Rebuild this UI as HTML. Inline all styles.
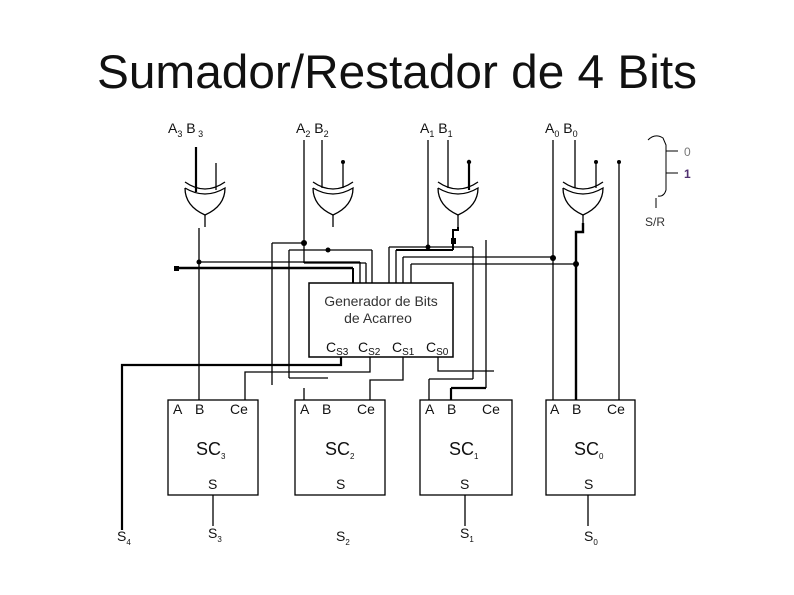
<!DOCTYPE html>
<html><head><style>
html,body{margin:0;padding:0;background:#fff;}
svg{display:block;}
text{font-family:"Liberation Sans",sans-serif;fill:#111;}
</style></head><body>
<svg width="794" height="595" viewBox="0 0 794 595" xmlns="http://www.w3.org/2000/svg">
<text x="397" y="88" font-size="47" text-anchor="middle" textLength="600" lengthAdjust="spacingAndGlyphs">Sumador/Restador de 4 Bits</text>

<g stroke="#000" fill="none" stroke-width="1.3">
<g id="g1">
<path d="M185 182 Q205 196 225 182"/>
<path d="M185 188 Q185 206 205 215 Q225 206 225 188 Q205 200 185 188"/>
</g>
<use href="#g1" x="128"/>
<use href="#g1" x="253"/>
<use href="#g1" x="378"/>

<line x1="196" y1="147" x2="196" y2="192" stroke-width="2.2"/>
<line x1="216" y1="163" x2="216" y2="190"/>
<line x1="205" y1="215" x2="205" y2="227"/>
<line x1="199" y1="228" x2="199" y2="400"/>
<line x1="199" y1="262" x2="360" y2="262"/>
<line x1="360" y1="262" x2="360" y2="283"/>
<line x1="176" y1="268" x2="353" y2="268" stroke-width="2.4"/>
<line x1="353" y1="268" x2="353" y2="283" stroke-width="2"/>

<line x1="304" y1="140" x2="304" y2="263"/>
<line x1="322" y1="140" x2="322" y2="188"/>
<line x1="343" y1="162" x2="343" y2="188"/>
<line x1="333" y1="215" x2="333" y2="227"/>
<line x1="272" y1="243" x2="304" y2="243"/>
<line x1="272" y1="243" x2="272" y2="385"/>
<line x1="304" y1="263" x2="366" y2="263"/>
<line x1="366" y1="263" x2="366" y2="283"/>
<line x1="289" y1="250" x2="372" y2="250"/>
<line x1="372" y1="250" x2="372" y2="283"/>
<line x1="289" y1="250" x2="289" y2="378"/>
<line x1="289" y1="378" x2="328" y2="378"/>
<line x1="304" y1="388" x2="304" y2="400"/>

<line x1="428" y1="140" x2="428" y2="247"/>
<line x1="448" y1="140" x2="448" y2="188"/>
<line x1="469" y1="162" x2="469" y2="190" stroke-width="2.2"/>
<line x1="458" y1="215" x2="458" y2="227"/>
<path d="M458 227 V230 H453 V250" stroke-width="2"/>
<line x1="389" y1="247" x2="473" y2="247"/>
<line x1="389" y1="247" x2="389" y2="283"/>
<line x1="396" y1="250" x2="453" y2="250" stroke-width="2"/>
<line x1="396" y1="250" x2="396" y2="283"/>
<line x1="403" y1="257" x2="553" y2="257"/>
<line x1="403" y1="257" x2="403" y2="283"/>
<line x1="411" y1="264" x2="576" y2="264"/>
<line x1="411" y1="264" x2="411" y2="283"/>
<line x1="473" y1="247" x2="473" y2="379"/>
<line x1="429" y1="379" x2="473" y2="379"/>
<line x1="429" y1="379" x2="429" y2="400"/>
<line x1="486" y1="240" x2="486" y2="388"/>
<line x1="451" y1="388" x2="486" y2="388" stroke-width="2.2"/>
<line x1="451" y1="388" x2="451" y2="400" stroke-width="2.2"/>

<line x1="553" y1="140" x2="553" y2="400"/>
<line x1="575" y1="140" x2="575" y2="188"/>
<line x1="596" y1="162" x2="596" y2="188"/>
<line x1="583" y1="215" x2="583" y2="227"/>
<path d="M583 223 V232 H576 V400" stroke-width="2.4"/>
<line x1="619" y1="162" x2="619" y2="400"/>

<path d="M648 140 Q655 133 663 138 L666 145 V190 Q664 197 658 196" stroke-width="1"/>
<line x1="666" y1="151" x2="678" y2="151" stroke-width="1"/>
<line x1="666" y1="173" x2="678" y2="173" stroke-width="1"/>
<line x1="656" y1="198" x2="656" y2="208" stroke-width="1"/>

<rect x="309" y="283" width="144" height="74" stroke-width="1.5"/>
<path d="M341 357 V365 H122 V530" stroke-width="2.2"/>
<path d="M370 357 V372 H245 V400"/>
<path d="M403 357 V380 H370 V400"/>
<path d="M438 357 V371 H494"/>

<rect x="168" y="400" width="90" height="95"/>
<rect x="295" y="400" width="90" height="95"/>
<rect x="420" y="400" width="92" height="95"/>
<rect x="546" y="400" width="89" height="95"/>
<line x1="213" y1="495" x2="213" y2="526"/>
<line x1="465" y1="495" x2="465" y2="526"/>
<line x1="588" y1="495" x2="588" y2="526"/>
</g>

<g fill="#000">
<circle cx="199" cy="262" r="2.5"/><rect x="174" y="266" width="5" height="5"/>
<circle cx="304" cy="243" r="3"/><circle cx="328" cy="250" r="2.5"/>
<circle cx="428" cy="247" r="2.5"/><rect x="451" y="238" width="5" height="6"/>
<circle cx="553" cy="258" r="3"/><circle cx="576" cy="264" r="3"/>
<circle cx="343" cy="162" r="2"/><circle cx="469" cy="162" r="2.2"/>
<circle cx="596" cy="162" r="2"/><circle cx="619" cy="162" r="2"/>
</g>

<g font-size="14">
<text x="168" y="133">A<tspan font-size="9" dy="4">3</tspan><tspan dy="-4"> B</tspan><tspan font-size="9" dy="4"> 3</tspan></text>
<text x="296" y="133">A<tspan font-size="9" dy="4">2</tspan><tspan dy="-4"> B</tspan><tspan font-size="9" dy="4">2</tspan></text>
<text x="420" y="133">A<tspan font-size="9" dy="4">1</tspan><tspan dy="-4"> B</tspan><tspan font-size="9" dy="4">1</tspan></text>
<text x="545" y="133">A<tspan font-size="9" dy="4">0</tspan><tspan dy="-4"> B</tspan><tspan font-size="9" dy="4">0</tspan></text>
<text x="684" y="156" font-size="12" style="fill:#777">0</text>
<text x="684" y="178" font-size="12" font-weight="bold" style="fill:#503070">1</text>
<text x="645" y="226" font-size="12" style="fill:#333">S/R</text>
<text x="381" y="306" text-anchor="middle" font-size="14" style="fill:#333">Generador de Bits</text>
<text x="378" y="323" text-anchor="middle" font-size="14" style="fill:#333">de Acarreo</text>
<text x="326" y="352" font-size="14">C<tspan font-size="10" dy="3">S3</tspan></text>
<text x="358" y="352" font-size="14">C<tspan font-size="10" dy="3">S2</tspan></text>
<text x="392" y="352" font-size="14">C<tspan font-size="10" dy="3">S1</tspan></text>
<text x="426" y="352" font-size="14">C<tspan font-size="10" dy="3">S0</tspan></text>
</g>

<g font-size="14">
<text x="173" y="414">A</text><text x="195" y="414">B</text><text x="230" y="414">Ce</text>
<text x="300" y="414">A</text><text x="322" y="414">B</text><text x="357" y="414">Ce</text>
<text x="425" y="414">A</text><text x="447" y="414">B</text><text x="482" y="414">Ce</text>
<text x="550" y="414">A</text><text x="572" y="414">B</text><text x="607" y="414">Ce</text>
<text x="196" y="455" font-size="18">SC<tspan font-size="8" dy="4">3</tspan></text>
<text x="325" y="455" font-size="18">SC<tspan font-size="8" dy="4">2</tspan></text>
<text x="449" y="455" font-size="18">SC<tspan font-size="8" dy="4">1</tspan></text>
<text x="574" y="455" font-size="18">SC<tspan font-size="8" dy="4">0</tspan></text>
<text x="208" y="489">S</text><text x="336" y="489">S</text>
<text x="460" y="489">S</text><text x="584" y="489">S</text>
<text x="117" y="541">S<tspan font-size="8" dy="4">4</tspan></text>
<text x="208" y="538">S<tspan font-size="8" dy="4">3</tspan></text>
<text x="336" y="541">S<tspan font-size="8" dy="4">2</tspan></text>
<text x="460" y="538">S<tspan font-size="8" dy="4">1</tspan></text>
<text x="584" y="541">S<tspan font-size="8" dy="4">0</tspan></text>
</g>
</svg>
</body></html>
